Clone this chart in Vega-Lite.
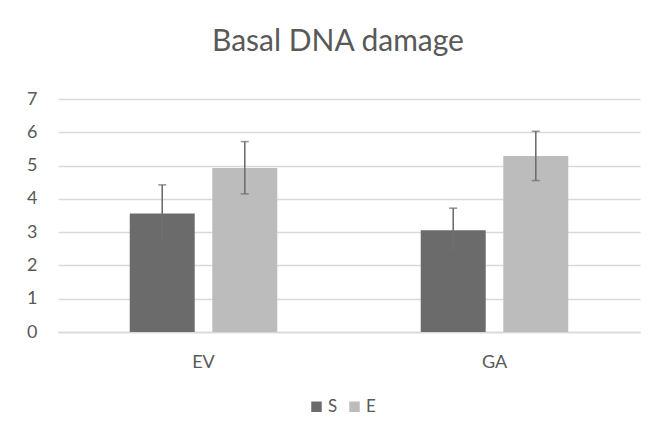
{
  "$schema": "https://vega.github.io/schema/vega-lite/v6.json",
  "autosize": "none",
  "width": 582,
  "height": 233,
  "padding": {"left": 58, "top": 99, "right": 22, "bottom": 107},
  "background": "white",
  "title": {
    "text": "Basal DNA damage",
    "font": "Lato",
    "fontSize": 30,
    "fontWeight": "normal",
    "color": "#595959",
    "offset": 33,
    "dx": -11
  },
  "data": {
    "values": [
      {"group": "EV", "series": "S", "value": 3.56, "low": 2.70, "high": 4.42},
      {"group": "EV", "series": "E", "value": 4.93, "low": 4.15, "high": 5.72},
      {"group": "GA", "series": "S", "value": 3.06, "low": 2.44, "high": 3.72},
      {"group": "GA", "series": "E", "value": 5.29, "low": 4.55, "high": 6.03}
    ]
  },
  "encoding": {
    "x": {
      "field": "group",
      "type": "nominal",
      "sort": ["EV", "GA"],
      "scale": {"paddingInner": 0.493, "paddingOuter": 0.2465},
      "axis": {
        "title": null,
        "labelAngle": 0,
        "ticks": false,
        "domain": true,
        "domainColor": "#d9d9d9",
        "domainWidth": 1.5,
        "labelFont": "Lato",
        "labelFontSize": 18,
        "labelColor": "#595959",
        "labelPadding": 21
      }
    },
    "xOffset": {
      "field": "series",
      "type": "nominal",
      "sort": ["S", "E"],
      "scale": {"paddingInner": 0.213, "paddingOuter": 0}
    }
  },
  "layer": [
    {
      "mark": {"type": "bar"},
      "encoding": {
        "y": {
          "field": "value",
          "type": "quantitative",
          "scale": {"domain": [0, 7], "nice": false},
          "axis": {
            "title": null,
            "values": [0, 1, 2, 3, 4, 5, 6, 7],
            "tickCount": 8,
            "labelOverlap": false,
            "ticks": false,
            "domain": false,
            "grid": true,
            "gridColor": "#d9d9d9",
            "gridWidth": 1.5,
            "labelFont": "Lato",
            "labelFontSize": 18,
            "labelColor": "#595959",
            "labelPadding": 21
          }
        },
        "color": {
          "field": "series",
          "type": "nominal",
          "scale": {"domain": ["S", "E"], "range": ["#6b6b6b", "#bcbcbc"]},
          "legend": {
            "title": null,
            "orient": "none",
            "legendX": 250,
            "legendY": 299,
            "direction": "horizontal",
            "symbolType": "square",
            "symbolSize": 110,
            "symbolStrokeWidth": 0,
            "labelFont": "Lato",
            "labelFontSize": 17,
            "labelColor": "#595959",
            "labelOffset": 3,
            "columnPadding": 8
          }
        }
      }
    },
    {
      "mark": {"type": "rule", "color": "#6e6e6e", "strokeWidth": 1.6},
      "encoding": {
        "y": {"field": "low", "type": "quantitative"},
        "y2": {"field": "high"}
      }
    },
    {
      "mark": {"type": "tick", "color": "#6e6e6e", "thickness": 1.6, "size": 8},
      "encoding": {
        "y": {"field": "low", "type": "quantitative"}
      }
    },
    {
      "mark": {"type": "tick", "color": "#6e6e6e", "thickness": 1.6, "size": 8},
      "encoding": {
        "y": {"field": "high", "type": "quantitative"}
      }
    }
  ],
  "config": {
    "view": {"stroke": null}
  }
}
